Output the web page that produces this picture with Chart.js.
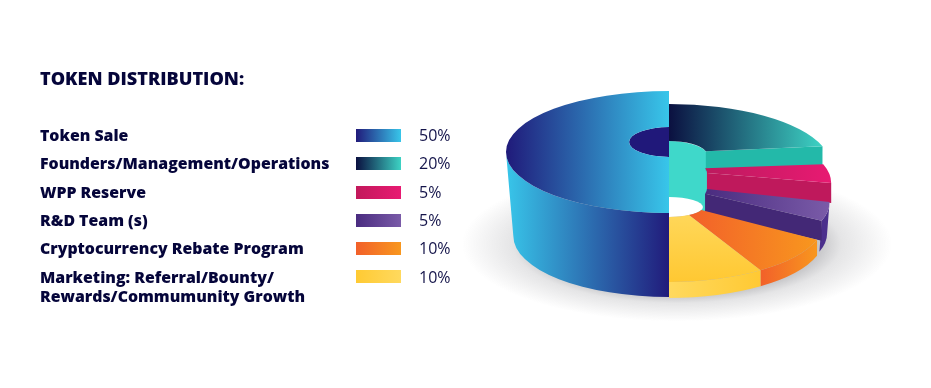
<!DOCTYPE html>
<html><head><meta charset="utf-8">
<script src="https://cdn.jsdelivr.net/npm/chart.js@4/dist/chart.umd.min.js"></script>
<style>
html,body{margin:0;padding:0;background:#fff;width:931px;height:388px;overflow:hidden}
#wrap{position:relative;width:931px;height:388px;font-family:"Open Sans",sans-serif;color:#05053a}
canvas{position:absolute;left:0;top:0}
h1{position:absolute;left:40px;top:66px;margin:0;font-size:18.1px;line-height:24px;font-weight:800}
.lab{position:absolute;left:40px;font-size:15.85px;line-height:19px;font-weight:800;white-space:nowrap}
.sw{position:absolute;left:356px;width:45px;height:13px}
.val{position:absolute;left:419px;font-size:16px;line-height:20px;font-weight:400;color:#14144a}
</style></head><body>
<div id="wrap"><canvas id="c" width="931" height="388"></canvas><h1 id="ttl"></h1></div>
<script>
const chartTitle = "TOKEN DISTRIBUTION:";
const categories = ["Token Sale","Founders/Management/Operations","WPP Reserve","R&D Team (s)","Cryptocurrency Rebate Program","Marketing: Referral/Bounty/\nRewards/Commumunity Growth"];
const shares = [50,20,5,5,10,10];
const shareLabels = ["50%","20%","5%","5%","10%","10%"];
const swatchFrom = ["#211b7b","#0b1040","#c2185b","#4a2c80","#f2602a","#ffca33"];
const swatchTo   = ["#38c6ea","#3dd3c4","#e81a72","#7a5ba8","#f8971e","#ffd95e"];

/* look of the stepped 3D slices, in legend order */
const look = [
 {dy:-42,ry:61,rx:1,    inDy:-52,inRy:15,inRx:1,   wall:84,cut:0, taper:.955,shift:0,top:["#201a7a","#38c6ea"],side:["#38c6ea","#211b7b"],face:null},
 {dy:-29,ry:61,rx:.99,  inDy:-38,inRy:15,inRx:.97, wall:16,cut:20,taper:1,   shift:0, top:["#0b1040","#3dd3c4"],side:["#23b9a9","#23b9a9"],face:"#23b9a9"},
 {dy:-11,ry:61,rx:.995, inDy:-21,inRy:15,inRx:.95, wall:17,cut:20,taper:.995,shift:0, top:["#bc1a5e","#e81a72"],side:["#c0195c","#c0195c"],face:"#bf195c"},
 {dy:8,  ry:61,rx:.985, inDy:-5, inRy:15,inRx:.95, wall:31,cut:20,taper:.985,shift:0, top:["#4a2c80","#7a5ba8"],side:["#4b2f8c","#4b2f8c"],face:"#432876"},
 {dy:27, ry:61,rx:.955, inDy:13, inRy:10,inRx:.85, wall:16,cut:0, taper:1,   shift:0, top:["#f2602a","#f8971e"],side:["#f2602a","#f8971e"],face:null},
 {dy:27, ry:61,rx:.955, inDy:13, inRy:10,inRx:.85, wall:16,cut:0, taper:1,   shift:0, top:["#ffd95e","#ffc832"],side:["#ffd95e","#ffc933"],face:null,vertical:true}
];
const drawOrder = [1,2,3,4,5,0];
const TAU=Math.PI*2;

function hGrad(ctx,x0,x1,stops){const g=ctx.createLinearGradient(x0,0,x1,0);g.addColorStop(0,stops[0]);g.addColorStop(1,stops[1]);return g;}

function drawSlice(ctx,arc,l){
  const a0=arc.startAngle,a1=arc.endAngle,cx=arc.x,R=arc.outerRadius*l.rx,r=arc.innerRadius*l.inRx;
  const cy=arc.y+l.dy,icy=arc.y+l.inDy;
  const ox=[cx+R*Math.cos(a0),cx+R*Math.cos(a1)];
  let oMin=Math.min(...ox),oMax=Math.max(...ox);
  if(a0<=Math.PI&&a1>=Math.PI) oMin=cx-R;
  if(a0<=TAU&&a1>=TAU) oMax=cx+R;
  const minX=Math.min(oMin,cx+r*Math.cos(a0),cx+r*Math.cos(a1)),maxX=oMax;
  // outer wall: only the part that faces the viewer
  const base=a0>=TAU-1e-6?TAU:0;
  const w0=Math.max(a0,base),w1=Math.min(a1,base+Math.PI);
  if(w1>w0){
    ctx.beginPath();
    ctx.ellipse(cx,cy,R,l.ry,0,w0,w1);
    ctx.ellipse(cx+l.shift,cy+l.wall,R*l.taper,l.ry,0,w1,w0,true);
    ctx.closePath();
    ctx.fillStyle=hGrad(ctx,oMin,oMax,l.side);ctx.fill();
  }
  // cut face at the slice's end
  if(l.face){
    const px=cx+R*Math.cos(a1),py=cy+l.ry*Math.sin(a1),ix=cx+r*Math.cos(a1),iy=icy+l.inRy*Math.sin(a1);
    ctx.beginPath();ctx.moveTo(ix,iy);ctx.lineTo(px,py);ctx.lineTo(px,py+l.cut);ctx.lineTo(ix,iy+l.cut);ctx.closePath();
    ctx.fillStyle=l.face;ctx.fill();
  }
  // top
  ctx.beginPath();
  ctx.ellipse(cx,cy,R,l.ry,0,a0,a1);
  ctx.ellipse(cx,icy,r,l.inRy,0,a1,a0,true);
  ctx.closePath();
  if(l.vertical){const g=ctx.createLinearGradient(0,icy,0,cy+l.ry);g.addColorStop(0,l.top[0]);g.addColorStop(1,l.top[1]);ctx.fillStyle=g;}
  else ctx.fillStyle=hGrad(ctx,minX,maxX,l.top);
  ctx.fill();
}

const stepped3D={id:"stepped3D",beforeDatasetsDraw(chart){
  const ctx=chart.ctx,arcs=chart.getDatasetMeta(0).data,c=arcs[0],cx=c.x,cy=c.y,R=c.outerRadius,r=c.innerRadius;
  ctx.save();
  // ground shadow
  ctx.save();ctx.translate(cx+8,cy+50);ctx.scale(1,.36);
  const sh=ctx.createRadialGradient(0,0,R*.8,0,0,R*1.32);
  sh.addColorStop(0,"rgba(40,40,50,.34)");sh.addColorStop(.4,"rgba(40,40,50,.12)");sh.addColorStop(1,"rgba(40,40,50,0)");
  ctx.fillStyle=sh;ctx.beginPath();ctx.arc(0,0,R*1.32,0,Math.PI*2);ctx.fill();ctx.restore();
  // hole seen through the large slice
  const b=look[0];
  ctx.fillStyle="#20187a";ctx.beginPath();ctx.ellipse(cx,cy+b.inDy,r,b.inRy,0,Math.PI*.5,Math.PI*1.5);ctx.fill();
  // inner column
  const g=look[1],o=look[4];
  ctx.fillStyle="#3fd8ca";ctx.beginPath();
  ctx.moveTo(cx,cy+g.inDy-g.inRy);
  ctx.ellipse(cx,cy+g.inDy,r*g.inRx,g.inRy,0,-Math.PI/2,0);
  ctx.lineTo(cx+r*g.inRx,cy+o.inDy+5);ctx.lineTo(cx,cy+o.inDy+5);ctx.closePath();ctx.fill();
  // white opening at the bottom of the column
  ctx.fillStyle="#fff";ctx.beginPath();ctx.ellipse(cx,cy+o.inDy,r*o.inRx,o.inRy,0,-Math.PI/2,Math.PI/2);ctx.fill();
  drawOrder.forEach(i=>drawSlice(ctx,arcs[i],look[i]));
  ctx.restore();
  return false;
}};

// legend
const wrap=document.getElementById("wrap");
document.getElementById("ttl").textContent=chartTitle;
const rowY=[135.5,163.5,192.5,220.5,248.5,277];
categories.forEach((name,i)=>{
  const lab=document.createElement("div");lab.className="lab";lab.style.top=(rowY[i]-9.5)+"px";lab.innerHTML=name.replace("&","&amp;").replace("\n","<br>");wrap.appendChild(lab);
  const sw=document.createElement("div");sw.className="sw";sw.style.top=(rowY[i]-7)+"px";sw.style.background=`linear-gradient(90deg,${swatchFrom[i]},${swatchTo[i]})`;wrap.appendChild(sw);
  const v=document.createElement("div");v.className="val";v.style.top=(rowY[i]-10.5)+"px";v.textContent=shareLabels[i];wrap.appendChild(v);
});

new Chart(document.getElementById("c"),{
  type:"doughnut",
  data:{labels:categories,datasets:[{data:shares,backgroundColor:swatchTo,borderWidth:0}]},
  plugins:[stepped3D],
  options:{responsive:false,animation:false,rotation:180,cutout:"24.5%",radius:163,
    layout:{padding:{left:407,right:0,top:0,bottom:0}},
    plugins:{legend:{display:false},tooltip:{enabled:false},title:{display:false}}}
});
</script></body></html>
